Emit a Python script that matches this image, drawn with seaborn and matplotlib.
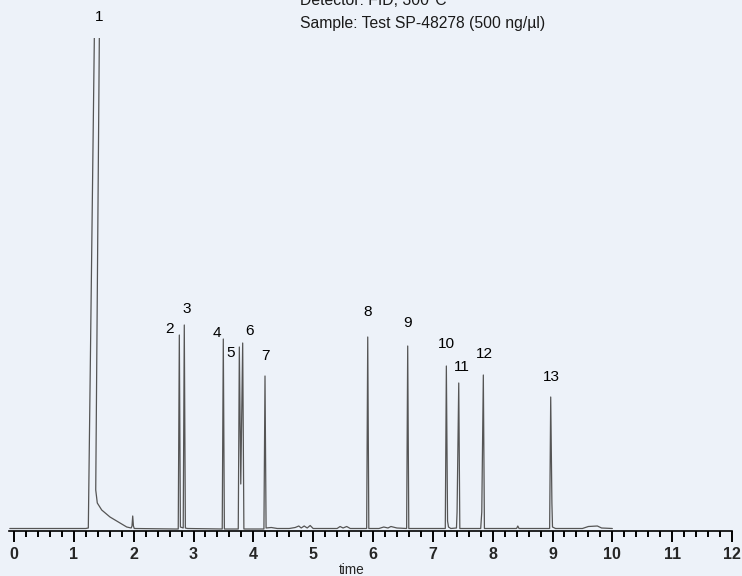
import numpy as np
import pandas as pd
import seaborn as sns
import matplotlib.pyplot as plt
from matplotlib import font_manager
from matplotlib.ticker import MultipleLocator

# chromatogram trace (time in min, signal in arbitrary units)
trace_time = [-0.07, 1.20, 1.242, 1.344, 1.427, 1.366, 1.392, 1.466, 1.604, 1.772, 1.884,
              1.958, 1.972, 1.984, 1.996, 2.010, 2.70,
              2.745, 2.763, 2.781, 2.828, 2.846, 2.864, 2.90,
              3.480, 3.498, 3.516, 3.748, 3.766, 3.790, 3.822, 3.842,
              4.177, 4.195, 4.213, 4.30, 4.40, 4.60, 4.70, 4.76, 4.80, 4.85, 4.90, 4.95, 5.00,
              5.40, 5.45, 5.50, 5.56, 5.62,
              5.894, 5.912, 5.930, 6.10, 6.18, 6.25, 6.30, 6.40,
              6.562, 6.580, 6.598, 7.208, 7.226, 7.246, 7.262, 7.30,
              7.395, 7.405, 7.433, 7.451, 7.800, 7.818, 7.844, 7.862,
              8.40, 8.42, 8.44, 8.952, 8.970, 8.990, 9.000, 9.05,
              9.50, 9.60, 9.75, 9.82, 10.0]
trace_signal = [0.5, 0.5, 1, 498, 498, 39, 26, 19, 12, 6, 2,
                1, 3, 13, 3, 0.5, 0,
                0, 194, 2, 1, 204, 1, 0.5,
                0, 190, 0, 0, 182, 45, 186, 0,
                0, 153, 1, 1.5, 0.5, 0.5, 1.5, 3, 1, 3, 1, 3.5, 0.5,
                0.5, 2.5, 1, 2.5, 0.5,
                0.5, 192, 0.5, 0.5, 2, 1, 2.5, 1,
                0.5, 183, 0.5, 0.5, 163, 8, 2, 0.5,
                1, 17, 146, 0.5, 0.5, 17, 154, 0.5,
                0.5, 3, 0.5, 0.5, 132, 26, 2, 0.5,
                0.5, 2.5, 3, 1, 0.5]

peak_labels = ["1", "2", "3", "4", "5", "6", "7", "8", "9", "10", "11", "12", "13"]
label_time = [1.421, 2.591, 2.887, 3.388, 3.627, 3.933, 4.200, 5.917, 6.574, 7.220, 7.488, 7.867, 8.975]
label_height = [512, 200, 220, 196, 176, 198, 173, 217, 206, 185, 162, 175, 152]

header = ["Detector: FID, 300\u00b0C", "Sample: Test SP-48278 (500 ng/\u00b5l)"]

bg = "#EDF2F9"
sns.set_theme(style="white")
plt.rcParams["font.family"] = ["Liberation Sans", "DejaVu Sans"]

installed = {f.name for f in font_manager.fontManager.ttflist}
if "Liberation Sans Narrow" in installed:
    narrow = ["Liberation Sans Narrow", "DejaVu Sans"]
    nscale = 1.0
else:
    narrow = ["Liberation Sans", "DejaVu Sans"]
    nscale = 0.85

fig = plt.figure(figsize=(7.42, 5.76), dpi=100, facecolor=bg)
W, H = 742, 576
ax = fig.add_axes([9 / W, 45 / H, 723 / W, 493 / H], facecolor=bg)

df = pd.DataFrame({"time": trace_time, "signal": trace_signal})
sns.lineplot(data=df, x="time", y="signal", sort=False, estimator=None,
             color="#555555", lw=0.9, ax=ax)

ax.set_xlim(-0.0836, 12.0)
ax.set_ylim(-2, 491)

for s in ["left", "top", "right"]:
    ax.spines[s].set_visible(False)
ax.spines["bottom"].set_color("black")
ax.spines["bottom"].set_linewidth(1.2)

ax.set_yticks([])
ax.set_ylabel("")
ax.xaxis.set_major_locator(MultipleLocator(1))
ax.xaxis.set_minor_locator(MultipleLocator(0.2))
ax.tick_params(axis="x", which="major", direction="out", length=7.9, width=1.4,
               color="black", pad=3.5, labelsize=11.5)
ax.tick_params(axis="x", which="minor", direction="out", length=4.3, width=1.4,
               color="black")
ax.tick_params(axis="x", bottom=True, which="both")
for lab in ax.get_xticklabels():
    lab.set_fontweight("bold")

ax.set_xlabel("time", family=narrow, fontsize=11 * nscale + (0 if nscale == 1 else 0.5))
ax.xaxis.set_label_coords((352 - 9) / 723, -(563 - 531) / 493)

for lbl, t, h in zip(peak_labels, label_time, label_height):
    ax.text(t, h, lbl, ha="center", va="center", family=narrow,
            fontsize=12 * (1 if nscale == 1 else 0.92), color="black")

fig.text(300 / W, 1 - 5 / H, header[0], ha="left", va="baseline", family=narrow,
         fontsize=13.4 * nscale, color="#1a1a1a")
fig.text(300 / W, 1 - 28.3 / H, header[1], ha="left", va="baseline", family=narrow,
         fontsize=13.4 * nscale, color="#1a1a1a")

fig.savefig("out.png", dpi=100, facecolor=bg)
